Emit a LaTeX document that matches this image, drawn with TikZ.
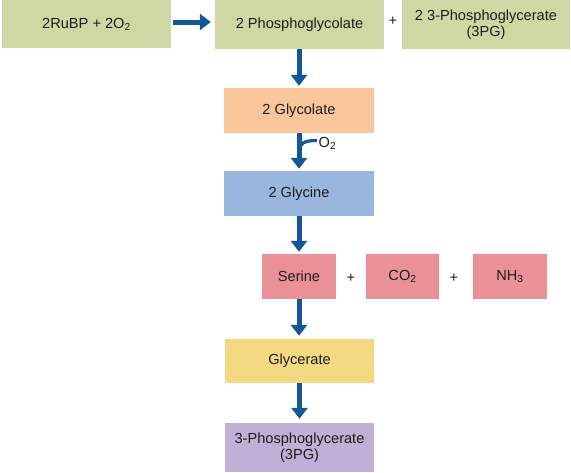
\documentclass[tikz,border=0pt]{standalone}
\usepackage{fontspec}
\setmainfont{Liberation Sans}
\usetikzlibrary{arrows.meta,calc}
\definecolor{boxgreen}{RGB}{205,216,165}
\definecolor{boxorange}{RGB}{248,198,154}
\definecolor{boxblue}{RGB}{152,182,222}
\definecolor{boxpink}{RGB}{234,145,152}
\definecolor{boxyellow}{RGB}{243,218,130}
\definecolor{boxpurple}{RGB}{192,176,216}
\definecolor{arrblue}{RGB}{18,88,150}
\definecolor{txt}{RGB}{30,28,28}
\tikzset{
  stepbox/.style={inner sep=0pt, align=center, text=txt,
    font=\fontsize{14.6}{16.5}\selectfont},
  plusnode/.style={inner sep=0pt, text=txt, font=\fontsize{14.6}{16.5}\selectfont},
  flow/.style={draw=arrblue, line width=5pt,
    -{Triangle[length=11pt,width=16pt]}},
}
\begin{document}
\begin{tikzpicture}[x=1pt,y=-1pt]
\useasboundingbox (0,0) rectangle (571,472);
% top row
\node[stepbox, fill=boxgreen, minimum width=169pt, minimum height=48pt] (rubp) at (86.5,24) {2RuBP + 2O\textsubscript{2}};
\node[stepbox, fill=boxgreen, minimum width=169pt, minimum height=49pt] (pglycolate) at (299.5,24.5) {2 Phosphoglycolate};
\node[plusnode] (plusA) at (393,21) {+};
\node[stepbox, fill=boxgreen, minimum width=168pt, minimum height=49pt] (pga) at (486,24.5) {2 3-Phosphoglycerate\\(3PG)};
% glycolate
\node[stepbox, fill=boxorange, minimum width=150pt, minimum height=45pt] (glycolate) at (299,110.5) {2 Glycolate};
% glycine
\node[stepbox, fill=boxblue, minimum width=150pt, minimum height=45pt] (glycine) at (299,193.5) {2 Glycine};
% serine row
\node[stepbox, fill=boxpink, minimum width=74pt, minimum height=45pt] (serine) at (299,276.5) {Serine};
\node[plusnode] (plusB) at (351,278) {+};
\node[stepbox, fill=boxpink, minimum width=73pt, minimum height=45pt] (co2) at (402.5,276.5) {CO\textsubscript{2}};
\node[plusnode] (plusC) at (454,278) {+};
\node[stepbox, fill=boxpink, minimum width=74pt, minimum height=45pt] (nh3) at (510,276.5) {NH\textsubscript{3}};
% glycerate
\node[stepbox, fill=boxyellow, minimum width=149pt, minimum height=44pt] (glycerate) at (299.5,361) {Glycerate};
% 3PG
\node[stepbox, fill=boxpurple, minimum width=149pt, minimum height=49pt] (pgb) at (299.5,447.5) {3-Phosphoglycerate\\(3PG)};
% arrows
\draw[flow, shorten <=2pt, shorten >=4pt] (rubp.east |- 0,22) -- (pglycolate.west |- 0,22);
\draw[flow, shorten >=2pt] (pglycolate.south -| glycolate.north) -- (glycolate.north);
\draw[flow, shorten >=2pt] (glycolate.south) -- (glycine.north);
\draw[flow, shorten >=2pt] (glycine.south) -- (glycine.south |- serine.north);
\draw[flow, shorten >=3pt] (serine.south) -- (serine.south |- glycerate.north);
\draw[flow, shorten >=4pt] (glycerate.south) -- (pgb.north);
% O2 branch
\coordinate (o2start) at ($(glycolate.south)+(0,19)$);
\coordinate (o2end) at (317,140.5);
\node[plusnode, anchor=west] (o2) at (318.5,143) {O\textsubscript{2}};
\draw[arrblue, line width=3.2pt] (o2start) .. controls ($(o2start)+(0,-9)$) and (304,140.5) .. (o2end);
\end{tikzpicture}
\end{document}
